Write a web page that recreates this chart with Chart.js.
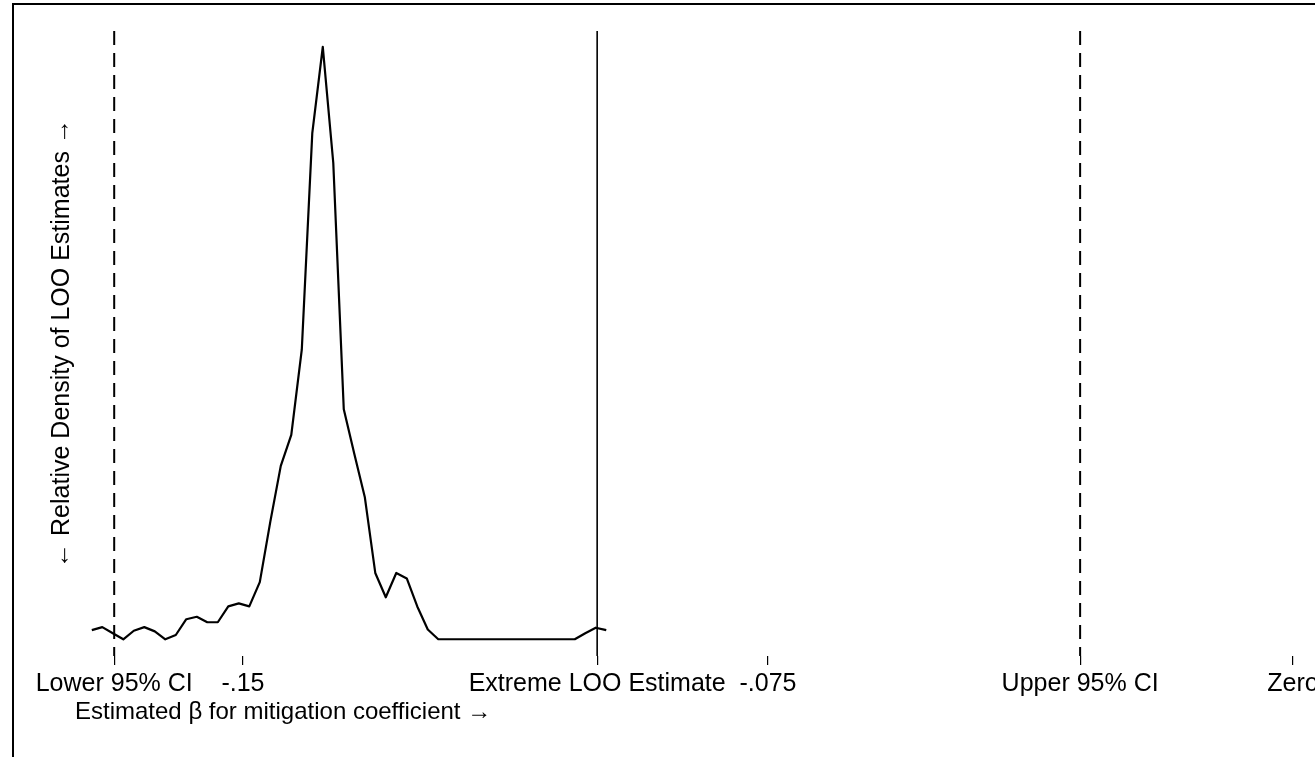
<!DOCTYPE html>
<html>
<head>
<meta charset="utf-8">
<script src="https://cdn.jsdelivr.net/npm/chart.js@4"></script>
<style>
  html, body { margin: 0; padding: 0; background: #fff; overflow: hidden; width: 1315px; height: 757px; }
  #chart { position: absolute; left: 0; top: 0; }
  #frame { position: absolute; left: 12px; top: 3px; width: 1500px; height: 900px;
           border-left: 2px solid #000; border-top: 2px solid #000; pointer-events: none; }
</style>
</head>
<body>
<canvas id="chart" width="1420" height="757"></canvas>
<div id="frame"></div>
<script>
// Kernel density grid of leave-one-out estimates
const betaGrid = [
  -0.1716, -0.1701, -0.1686, -0.1671, -0.1656, -0.1641, -0.1626, -0.1611, -0.1596, -0.1581,
  -0.1566, -0.1551, -0.1536, -0.1521, -0.1506, -0.1491, -0.1476, -0.1461, -0.1446, -0.1431,
  -0.1416, -0.1401, -0.1386, -0.1371, -0.1356, -0.1341, -0.1326, -0.1311, -0.1296, -0.1281,
  -0.1266, -0.1251, -0.1236, -0.1221, -0.1206, -0.1191, -0.1176, -0.1161, -0.1146, -0.1131,
  -0.1116, -0.1101, -0.1086, -0.1071, -0.1056, -0.1041, -0.1026, -0.1011, -0.0996, -0.0981
];
const density = [
  0.015, 0.020, 0.010, 0.000, 0.014, 0.020, 0.013, 0.000, 0.007, 0.033,
  0.037, 0.028, 0.028, 0.054, 0.059, 0.054, 0.094, 0.193, 0.285, 0.336,
  0.476, 0.832, 0.974, 0.783, 0.378, 0.305, 0.234, 0.109, 0.069, 0.109,
  0.100, 0.054, 0.016, 0.000, 0.000, 0.000, 0.000, 0.000, 0.000, 0.000,
  0.000, 0.000, 0.000, 0.000, 0.000, 0.000, 0.000, 0.010, 0.019, 0.015
];

// Reference lines
const lowerCI = -0.1684;
const extremeLOO = -0.0994;
const upperCI = -0.0304;

// Axis ticks
const tickValues = [lowerCI, -0.15, extremeLOO, -0.075, upperCI, 0];
const tickLabels = ['Lower 95% CI', '-.15', 'Extreme LOO Estimate', '-.075', 'Upper 95% CI', 'Zero'];

const xMin = -0.174, xMax = 0.0153;
const yMin = -0.0275, yMax = 1;

Chart.defaults.font.family = "'Liberation Sans', Arial, Helvetica, sans-serif";
Chart.defaults.font.size = 25;
Chart.defaults.color = '#000';

function vline(x, dash, width) {
  return {
    data: [{x: x, y: yMax}, {x: x, y: yMin}],
    borderColor: '#000',
    borderWidth: width,
    borderDash: dash,
    pointRadius: 0,
    fill: false
  };
}

new Chart(document.getElementById('chart'), {
  type: 'line',
  data: {
    datasets: [
      {
        data: betaGrid.map((x, i) => ({x: x, y: density[i]})),
        borderColor: '#000',
        borderWidth: 2.2,
        borderJoinStyle: 'round',
        pointRadius: 0,
        tension: 0,
        fill: false
      },
      vline(lowerCI, [14, 8], 2),
      vline(extremeLOO, [], 1.6),
      vline(upperCI, [14, 8], 2)
    ]
  },
  options: {
    responsive: false,
    animation: false,
    layout: {padding: {top: 31, right: 20, left: 0, bottom: 0}},
    plugins: {legend: {display: false}, tooltip: {enabled: false}},
    scales: {
      x: {
        type: 'linear',
        min: xMin,
        max: xMax,
        border: {display: false},
        grid: {drawOnChartArea: false, drawTicks: true, tickLength: 9, color: '#000', lineWidth: 1.2},
        afterBuildTicks: scale => { scale.ticks = tickValues.map(v => ({value: v})); },
        afterFit: scale => { scale.height = 101; },
        ticks: {
          autoSkip: false,
          maxRotation: 0,
          padding: 4,
          callback: (v, i) => tickLabels[i]
        },
        title: {
          display: true,
          text: 'Estimated β for mitigation coefficient →',
          align: 'start',
          font: {size: 24},
          padding: {top: 0, bottom: 30}
        }
      },
      y: {
        min: yMin,
        max: yMax,
        border: {display: false},
        grid: {display: false},
        ticks: {display: false},
        afterFit: scale => { scale.width = 75; },
        title: {
          display: true,
          text: '← Relative Density of LOO Estimates →',
          padding: {top: 47, bottom: 0}
        }
      }
    }
  }
});
</script>
</body>
</html>
